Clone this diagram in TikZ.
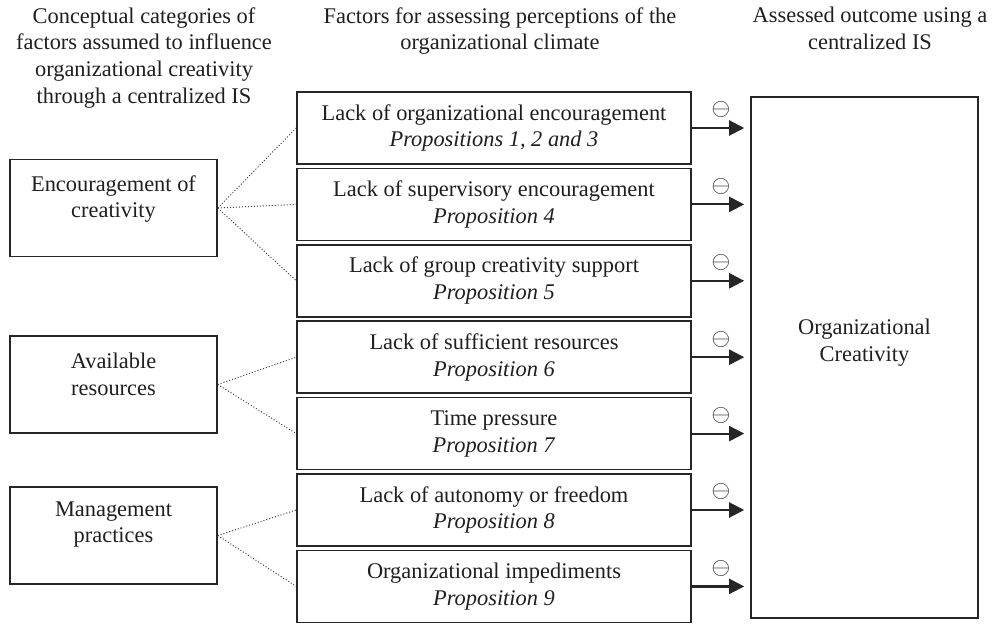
\documentclass[tikz,border=0pt]{standalone}
\usepackage{fontspec}
\setmainfont{Liberation Serif}
\usetikzlibrary{arrows.meta}

\begin{document}
\begin{tikzpicture}[x=0.5pt,y=-0.5pt,
  every node/.style={font=\fontsize{11.2}{13.4}\selectfont, text=black!88},
  head/.style={align=center, anchor=north, inner sep=0pt},
  catbox/.style={draw=black!85, line width=0.8pt, minimum width=103.5pt, minimum height=48.5pt},
  factor/.style={draw=black!85, line width=0.8pt, minimum width=197pt, minimum height=36pt, align=center, inner sep=0pt},
  outbox/.style={draw=black!85, line width=0.8pt, minimum width=113.5pt, minimum height=260.5pt},
  boxtext/.style={align=center, inner sep=0pt},
  link/.style={densely dotted, line width=0.5pt, black!75},
  effect/.style={-{Triangle[length=7.5pt,width=7.5pt]}, line width=1.1pt, black!85, shorten >=3pt},
  sign/.style={font=\fontsize{12}{12}\selectfont, inner sep=0pt, above=4.5pt}
]
\useasboundingbox (0,0) rectangle (994,624);

\node[head] (hcat) at (144,7) {Conceptual categories of\\factors assumed to influence\\organizational creativity\\through a centralized IS};
\node[head] (hfac) at (500,7) {Factors for assessing perceptions of the\\organizational climate};
\node[head] (hout) at (870,7) {Assessed outcome using a\\centralized IS};

\node[catbox] (enc) at (113.5,208) {};
\node[boxtext] (enctxt) at ([yshift=4.5pt]enc.center) {Encouragement of\\creativity};
\node[catbox] (res) at (113.5,384.5) {};
\node[boxtext] (restxt) at ([yshift=5pt]res.center) {Available\\resources};
\node[catbox] (mgt) at (113.5,535.5) {};
\node[boxtext] (mgttxt) at ([yshift=5.5pt]mgt.center) {Management\\practices};

\node[factor] (f1) at (494,128) {Lack of organizational encouragement\\\textit{Propositions 1, 2 and 3}};
\node[factor] (f2) at (494,204.4) {Lack of supervisory encouragement\\\textit{Proposition 4}};
\node[factor] (f3) at (494,280.8) {Lack of group creativity support\\\textit{Proposition 5}};
\node[factor] (f4) at (494,357.2) {Lack of sufficient resources\\\textit{Proposition 6}};
\node[factor] (f5) at (494,433.6) {Time pressure\\\textit{Proposition 7}};
\node[factor] (f6) at (494,510) {Lack of autonomy or freedom\\\textit{Proposition 8}};
\node[factor] (f7) at (494,586.4) {Organizational impediments\\\textit{Proposition 9}};

\node[outbox] (out) at (864.5,357.5) {};
\node[boxtext] (outtxt) at ([yshift=7.25pt]out.center) {Organizational\\Creativity};

\foreach \f in {f1,f2,f3} \draw[link] (enc.east) -- (\f.west);
\foreach \f in {f4,f5} \draw[link] (res.east) -- (\f.west);
\foreach \f in {f6,f7} \draw[link] (mgt.east) -- (\f.west);

\foreach \i in {1,...,7}
  \draw[effect] (f\i.east) -- (f\i.east -| out.west) node[sign, midway] {$\ominus$};
\end{tikzpicture}
\end{document}
